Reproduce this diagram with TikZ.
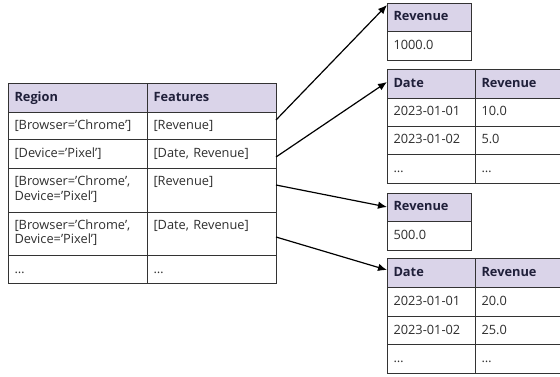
\documentclass[tikz,border=0pt]{standalone}
\usepackage{fontspec}
\setmainfont{Open Sans}
\usetikzlibrary{arrows.meta}
\definecolor{hdrfill}{HTML}{DAD4E9}
\definecolor{linec}{HTML}{333333}
\definecolor{txt}{HTML}{2E2E2E}
\definecolor{htxt}{HTML}{20203A}
\begin{document}
\begin{tikzpicture}[x=1pt,y=-1pt,
  cell/.style={draw=linec, line width=0.9pt, rectangle, anchor=north west, outer sep=0pt,
    inner xsep=6.5pt, inner ysep=0pt, align=left, text=txt, text height=10pt, text depth=2pt,
    font=\fontsize{12.8}{14.5}\selectfont},
  hcell/.style={cell, fill=hdrfill, text=htxt, font=\fontsize{12.8}{14.5}\selectfont\bfseries},
  twoline/.style={text height=, text depth=},
  link/.style={line width=1.2pt, draw=black, -{Latex[length=9pt,width=7.5pt]}}]
\useasboundingbox (0,0) rectangle (560,377);
\clip (0,0) rectangle (560,377);
% ---- left table
\node[hcell, minimum width=139, text width=126, minimum height=29] (Lh1) at (8,83) {Region};
\node[hcell, minimum width=129, text width=116, minimum height=29] (Lh2) at (147,83) {Features};
\node[cell, minimum width=139, text width=126, minimum height=27] (L11) at (8,112) {[Browser='Chrome']};
\node[cell, minimum width=129, text width=116, minimum height=27] (L12) at (147,112) {[Revenue]};
\node[cell, minimum width=139, text width=126, minimum height=29] (L21) at (8,139) {[Device='Pixel']};
\node[cell, minimum width=129, text width=116, minimum height=29] (L22) at (147,139) {[Date, Revenue]};
\node[cell, twoline, minimum width=139, text width=126, minimum height=44] (L31) at (8,168) {[Browser='Chrome',\strut\\Device='Pixel']\strut};
\node[cell, twoline, minimum width=129, text width=116, minimum height=44] (L32) at (147,168) {[Revenue]\strut\\\strut};
\node[cell, twoline, minimum width=139, text width=126, minimum height=43] (L41) at (8,212) {[Browser='Chrome',\strut\\Device='Pixel']\strut};
\node[cell, twoline, minimum width=129, text width=116, minimum height=43] (L42) at (147,212) {[Date, Revenue]\strut\\\strut};
\node[cell, minimum width=139, text width=126, minimum height=28] (L51) at (8,255) {…};
\node[cell, minimum width=129, text width=116, minimum height=28] (L52) at (147,255) {…};
% ---- table 1
\node[hcell, minimum width=84, text width=71, minimum height=28] (Ah) at (387,3) {Revenue};
\node[cell, minimum width=84, text width=71, minimum height=29] (A1) at (387,31) {1000.0};
% ---- table 2
\node[hcell, minimum width=88, text width=75, minimum height=29] (Bh1) at (387,69) {Date};
\node[hcell, minimum width=100, text width=87, minimum height=29] (Bh2) at (475,69) {Revenue};
\node[cell, minimum width=88, text width=75, minimum height=28] (B11) at (387,98) {2023-01-01};
\node[cell, minimum width=100, text width=87, minimum height=28] (B12) at (475,98) {10.0};
\node[cell, minimum width=88, text width=75, minimum height=28] (B21) at (387,126) {2023-01-02};
\node[cell, minimum width=100, text width=87, minimum height=28] (B22) at (475,126) {5.0};
\node[cell, minimum width=88, text width=75, minimum height=29] (B31) at (387,154) {…};
\node[cell, minimum width=100, text width=87, minimum height=29] (B32) at (475,154) {…};
% ---- table 3
\node[hcell, minimum width=84, text width=71, minimum height=28] (Ch) at (387,193) {Revenue};
\node[cell, minimum width=84, text width=71, minimum height=29] (C1) at (387,221) {500.0};
% ---- table 4
\node[hcell, minimum width=88, text width=75, minimum height=29] (Dh1) at (387,258) {Date};
\node[hcell, minimum width=100, text width=87, minimum height=29] (Dh2) at (475,258) {Revenue};
\node[cell, minimum width=88, text width=75, minimum height=29] (D11) at (387,287) {2023-01-01};
\node[cell, minimum width=100, text width=87, minimum height=29] (D12) at (475,287) {20.0};
\node[cell, minimum width=88, text width=75, minimum height=28] (D21) at (387,316) {2023-01-02};
\node[cell, minimum width=100, text width=87, minimum height=28] (D22) at (475,316) {25.0};
\node[cell, minimum width=88, text width=75, minimum height=29] (D31) at (387,344) {…};
\node[cell, minimum width=100, text width=87, minimum height=29] (D32) at (475,344) {…};
% ---- connector end points
\path (L12.north east) ++(0,8) coordinate (s1);
\path (L22.north east) ++(0,18) coordinate (s2);
\path (L32.north east) ++(0,17) coordinate (s3);
\path (L42.north east) ++(0,25) coordinate (s4);
\path (Ah.north west) ++(0,2) coordinate (e1);
\path (Bh1.north west) ++(0,13) coordinate (e2);
\path (Ch.north west) ++(0,14) coordinate (e3);
\path (Dh1.north west) ++(0,12) coordinate (e4);
\draw[link] (s1) -- (e1);
\draw[link] (s2) -- (e2);
\draw[link] (s3) -- (e3);
\draw[link] (s4) -- (e4);
\end{tikzpicture}
\end{document}
